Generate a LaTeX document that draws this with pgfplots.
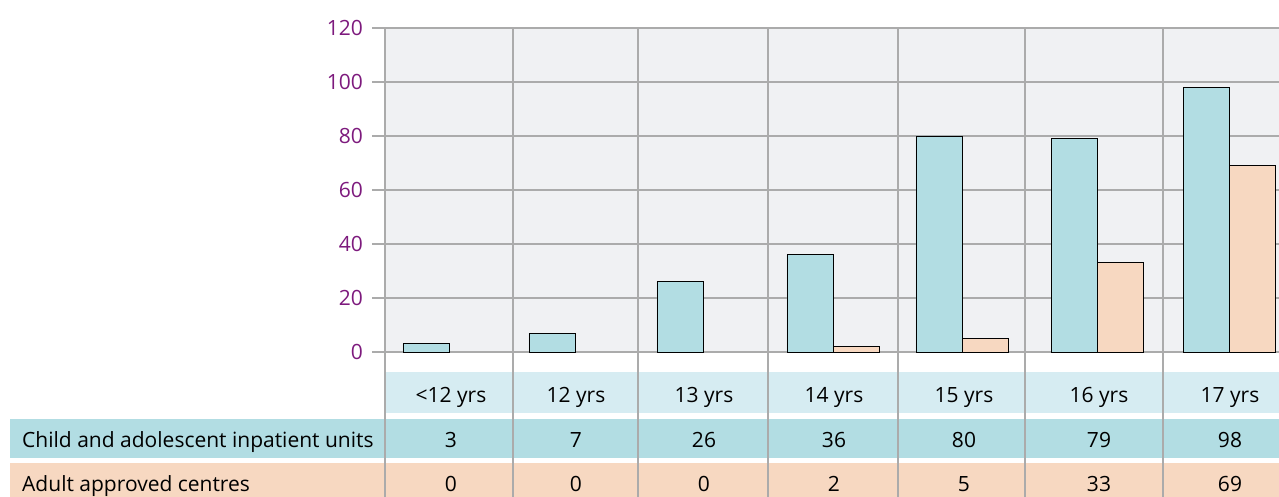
\documentclass[border=0pt]{standalone}
\usepackage{pgfplots}
\pgfplotsset{compat=1.18}
\usepackage{fontspec}
\setmainfont{Open Sans}
\definecolor{bggrey}{HTML}{F0F1F3}
\definecolor{hdr}{HTML}{D6ECF2}
\definecolor{child}{HTML}{B2DDE3}
\definecolor{adult}{HTML}{F7D8C1}
\definecolor{purp}{HTML}{7D1A7D}
\definecolor{gridc}{HTML}{ABABAB}
\newcommand{\tf}{\fontsize{21bp}{24bp}\selectfont}
\begin{document}
\tf
\begin{tikzpicture}
\begin{axis}[
 x=1bp, y=2.7bp,
 xmin=385, xmax=1279, ymin=0, ymax=120,
 axis line style={draw=none},
 axis background/.style={fill=bggrey},
 ytick={0,20,...,120},
 xtick={385,513,638,768,898,1025,1163},
 xticklabels={},
 major x tick style={draw=none},
 ymajorgrids, xmajorgrids,
 grid style={gridc, line width=1.2bp},
 ytick pos=left, tick align=outside, major tick length=13bp,
 major y tick style={gridc, line width=1.2bp},
 yticklabel style={text=purp, font=\tf, xshift=-2bp},
 /pgf/number format/assume math mode=true,
 clip=false,
 ybar, bar width=46,
]
\addplot[fill=child, draw=black, line width=0.9bp, bar shift=-23] coordinates {(449,3) (575,7) (703,26) (833,36) (962,80) (1097,79) (1229,98)};
\addplot[fill=adult, draw=black, line width=0.9bp, bar shift=23] coordinates {(833,2) (962,5) (1097,33) (1229,69)};

\fill[hdr] (axis cs:385,{(352-372)/2.7}) rectangle (axis cs:1279,{(352-413)/2.7});
\fill[child] (axis cs:10,{(352-419)/2.7}) rectangle (axis cs:1279,{(352-458)/2.7});
\fill[adult] (axis cs:10,{(352-463)/2.7}) rectangle (axis cs:1279,{(352-497)/2.7});
\pgfplotsinvokeforeach{385,513,638,768,898,1025,1163}{
  \draw[gridc, line width=1.2bp] (axis cs:#1,0) -- (axis cs:#1,{(352-497)/2.7});
}
\node[anchor=base west, inner sep=0pt] at (axis cs:22,{(352-448)/2.7}) {Child and adolescent inpatient units};
\node[anchor=base west, inner sep=0pt] at (axis cs:22,{(352-492)/2.7}) {Adult approved centres};

\node[anchor=base, inner sep=0pt] at (axis cs:451,{(352-403)/2.7}) {<12 yrs};
\node[anchor=base, inner sep=0pt] at (axis cs:576,{(352-403)/2.7}) {12 yrs};
\node[anchor=base, inner sep=0pt] at (axis cs:704,{(352-403)/2.7}) {13 yrs};
\node[anchor=base, inner sep=0pt] at (axis cs:834,{(352-403)/2.7}) {14 yrs};
\node[anchor=base, inner sep=0pt] at (axis cs:964,{(352-403)/2.7}) {15 yrs};
\node[anchor=base, inner sep=0pt] at (axis cs:1099,{(352-403)/2.7}) {16 yrs};
\node[anchor=base, inner sep=0pt] at (axis cs:1230,{(352-403)/2.7}) {17 yrs};

\node[anchor=base, inner sep=0pt] at (axis cs:451,{(352-448)/2.7}) {3};
\node[anchor=base, inner sep=0pt] at (axis cs:576,{(352-448)/2.7}) {7};
\node[anchor=base, inner sep=0pt] at (axis cs:704,{(352-448)/2.7}) {26};
\node[anchor=base, inner sep=0pt] at (axis cs:834,{(352-448)/2.7}) {36};
\node[anchor=base, inner sep=0pt] at (axis cs:964,{(352-448)/2.7}) {80};
\node[anchor=base, inner sep=0pt] at (axis cs:1099,{(352-448)/2.7}) {79};
\node[anchor=base, inner sep=0pt] at (axis cs:1230,{(352-448)/2.7}) {98};

\node[anchor=base, inner sep=0pt] at (axis cs:451,{(352-492)/2.7}) {0};
\node[anchor=base, inner sep=0pt] at (axis cs:576,{(352-492)/2.7}) {0};
\node[anchor=base, inner sep=0pt] at (axis cs:704,{(352-492)/2.7}) {0};
\node[anchor=base, inner sep=0pt] at (axis cs:834,{(352-492)/2.7}) {2};
\node[anchor=base, inner sep=0pt] at (axis cs:964,{(352-492)/2.7}) {5};
\node[anchor=base, inner sep=0pt] at (axis cs:1099,{(352-492)/2.7}) {33};
\node[anchor=base, inner sep=0pt] at (axis cs:1230,{(352-492)/2.7}) {69};

\coordinate (TL) at (axis cs:0,{352/2.7});
\coordinate (BR) at (axis cs:1279,{(352-497)/2.7});
\end{axis}
\pgfresetboundingbox
\path[use as bounding box] (TL) rectangle (BR);
\end{tikzpicture}
\end{document}
